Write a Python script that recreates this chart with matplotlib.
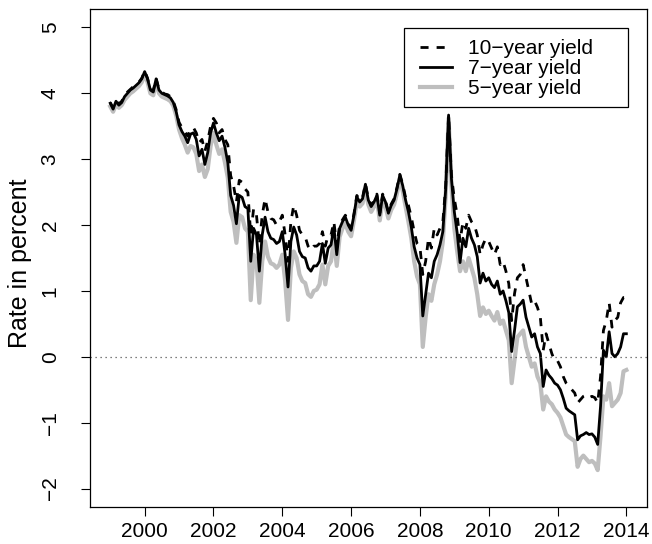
import numpy as np
import pandas as pd
import matplotlib
matplotlib.use("Agg")
import matplotlib.pyplot as plt
from matplotlib.patches import Rectangle

plt.rcParams['font.family'] = ['Liberation Sans', 'DejaVu Sans']

# monthly observations, Jan 1999 - Jan 2014
months = pd.date_range('1999-01-01', '2014-01-01', freq='MS')

yield_10y = [
    3.86, 3.78, 3.89, 3.84, 3.88, 3.96, 4.02, 4.06, 4.10, 4.13, 4.17, 4.23,
    4.34, 4.23, 4.06, 4.04, 4.23, 4.06, 4.02, 3.99, 3.98, 3.95, 3.88, 3.75,
    3.56, 3.48, 3.42, 3.35, 3.46, 3.48, 3.40, 3.25, 3.30, 3.12, 3.28, 3.50,
    3.62, 3.55, 3.40, 3.45, 3.30, 3.22, 2.75, 2.60, 2.35, 2.68, 2.65, 2.55,
    2.50, 1.85, 2.25, 2.15, 1.70, 2.15, 2.40, 2.20, 2.10, 2.08, 2.00, 2.05,
    2.15, 1.85, 1.45, 2.05, 2.30, 2.15, 1.92, 1.85, 1.82, 1.68, 1.62, 1.68,
    1.68, 1.72, 1.90, 1.68, 1.85, 1.85, 2.05, 1.68, 2.00, 2.08, 2.15, 2.03,
    1.95, 2.17, 2.45, 2.38, 2.42, 2.63, 2.40, 2.30, 2.37, 2.47, 2.18, 2.47,
    2.37, 2.20, 2.32, 2.40, 2.57, 2.77, 2.62, 2.42, 2.30, 2.12, 1.90, 1.72,
    1.67, 1.25, 1.45, 1.80, 1.65, 1.95, 1.85, 1.95, 2.05, 2.60, 3.67, 2.75,
    2.40, 2.15, 1.75, 2.05, 1.95, 2.15, 2.05, 2.00, 1.85, 1.55, 1.70, 1.80,
    1.75, 1.65, 1.55, 1.67, 1.40, 1.45, 1.30, 1.11, 0.55, 0.96, 1.20, 1.25,
    1.40, 1.20, 1.00, 0.80, 0.85, 0.75, 0.60, 0.10, 0.35, 0.20, 0.05, -0.06,
    -0.06, -0.15, -0.30, -0.40, -0.45, -0.50, -0.55, -0.70, -0.65, -0.60, -0.58, -0.62,
    -0.60, -0.62, -0.70, -0.30, 0.40, 0.55, 0.82, 0.45, 0.55, 0.60, 0.82, 0.90,
    0.90,
]

yield_7y = [
    3.85, 3.76, 3.88, 3.82, 3.86, 3.95, 4.00, 4.05, 4.08, 4.12, 4.16, 4.22,
    4.33, 4.22, 4.05, 4.02, 4.22, 4.05, 4.00, 3.98, 3.96, 3.93, 3.86, 3.72,
    3.52, 3.42, 3.35, 3.25, 3.38, 3.40, 3.30, 3.05, 3.15, 2.92, 3.10, 3.40,
    3.55, 3.40, 3.28, 3.35, 3.18, 2.95, 2.45, 2.30, 2.02, 2.45, 2.42, 2.28,
    2.25, 1.45, 1.95, 1.85, 1.30, 1.85, 2.12, 1.90, 1.80, 1.78, 1.72, 1.75,
    1.90, 1.55, 1.06, 1.75, 1.97, 1.85, 1.60, 1.52, 1.50, 1.35, 1.30, 1.38,
    1.38, 1.45, 1.72, 1.42, 1.65, 1.70, 1.97, 1.55, 1.95, 2.05, 2.12, 2.00,
    1.92, 2.15, 2.43, 2.35, 2.40, 2.62, 2.38, 2.28, 2.35, 2.45, 2.15, 2.45,
    2.35, 2.18, 2.30, 2.38, 2.55, 2.76, 2.60, 2.38, 2.20, 1.97, 1.67, 1.50,
    1.40, 0.62, 0.95, 1.27, 1.20, 1.45, 1.55, 1.70, 1.90, 2.55, 3.67, 2.70,
    2.20, 1.88, 1.43, 1.80, 1.67, 1.95, 1.80, 1.70, 1.52, 1.12, 1.27, 1.15,
    1.20, 1.10, 1.05, 1.15, 0.95, 1.00, 0.85, 0.67, 0.08, 0.40, 0.76, 0.80,
    0.86, 0.60, 0.45, 0.30, 0.35, 0.15, 0.05, -0.45, -0.20, -0.28, -0.33, -0.40,
    -0.43, -0.50, -0.63, -0.78, -0.82, -0.85, -0.88, -1.26, -1.20, -1.18, -1.15, -1.18,
    -1.17, -1.22, -1.33, -0.75, 0.10, 0.00, 0.38, 0.05, 0.00, 0.05, 0.15, 0.35,
    0.35,
]

yield_5y = [
    3.80, 3.72, 3.83, 3.78, 3.82, 3.90, 3.95, 4.00, 4.03, 4.07, 4.11, 4.17,
    4.28, 4.17, 4.00, 3.97, 4.17, 4.00, 3.95, 3.93, 3.91, 3.88, 3.81, 3.66,
    3.45, 3.32, 3.22, 3.10, 3.20, 3.18, 3.08, 2.82, 2.92, 2.73, 2.85, 3.20,
    3.40, 3.22, 3.08, 3.15, 2.95, 2.72, 2.20, 2.05, 1.73, 2.15, 2.12, 1.95,
    1.90, 0.86, 1.55, 1.45, 0.82, 1.45, 1.75, 1.52, 1.42, 1.40, 1.35, 1.40,
    1.55, 1.15, 0.56, 1.35, 1.60, 1.50, 1.25, 1.15, 1.12, 0.95, 0.91, 1.00,
    1.02, 1.10, 1.40, 1.10, 1.38, 1.45, 1.78, 1.38, 1.82, 1.95, 2.02, 1.90,
    1.83, 2.07, 2.36, 2.28, 2.33, 2.55, 2.31, 2.20, 2.28, 2.38, 2.07, 2.38,
    2.28, 2.10, 2.23, 2.31, 2.48, 2.70, 2.52, 2.28, 2.05, 1.80, 1.45, 1.22,
    1.10, 0.15, 0.60, 0.95, 0.85, 1.10, 1.25, 1.45, 1.75, 2.45, 3.62, 2.60,
    1.95, 1.60, 1.30, 1.45, 1.30, 1.50, 1.35, 1.20, 0.95, 0.62, 0.75, 0.65,
    0.70, 0.62, 0.55, 0.68, 0.50, 0.55, 0.40, 0.25, -0.40, -0.05, 0.30, 0.35,
    0.40, 0.15, 0.00, -0.15, -0.10, -0.30, -0.40, -0.80, -0.60, -0.68, -0.72, -0.80,
    -0.85, -0.92, -1.05, -1.18, -1.22, -1.25, -1.28, -1.67, -1.55, -1.50, -1.55, -1.60,
    -1.58, -1.62, -1.72, -1.20, -0.60, -0.65, -0.40, -0.75, -0.70, -0.65, -0.55, -0.22,
    -0.20,
]

labels = ['10\u2212year yield', '7\u2212year yield', '5\u2212year yield']

# decimal year for the x axis
t = months.year + (months.month - 1) / 12.0

fig = plt.figure(figsize=(6.52, 5.44), dpi=100)
W, H = 652.0, 544.0
ax = fig.add_axes([89.6 / W, (H - 507) / H, (647 - 89.6) / W, (507 - 9) / H])

l5, = ax.plot(t, yield_5y, color='#bebebe', lw=3.0, solid_joinstyle='round')
l7, = ax.plot(t, yield_7y, color='black', lw=2.0, solid_joinstyle='round')
l10, = ax.plot(t, yield_10y, color='black', lw=2.0, linestyle=(0, (2.9, 2.9)))
ax.axhline(0, color='#555555', lw=0.9, linestyle=(0, (1, 3)))

ax.set_xlim(1998.4, 2014.6)
ax.set_ylim(-2.28, 5.28)
ax.set_xticks(np.arange(2000, 2015, 2))
ax.set_yticks(np.arange(-2, 6, 1))
ax.set_yticklabels(['\u22122', '\u22121', '0', '1', '2', '3', '4', '5'])
ax.tick_params(axis='both', length=6.5, width=0.8, labelsize=15)
ax.tick_params(axis='y', pad=15)
ax.tick_params(axis='x', pad=4)
for lab in ax.get_yticklabels():
    lab.set_rotation(90)
    lab.set_va('center')
for sp in ax.spines.values():
    sp.set_linewidth(0.9)

fig.text(20 / W, 1 - 263 / H, 'Rate in percent', rotation=90,
         ha='center', va='center', fontsize=18)

# legend box drawn separately so its padding is wider than the entries
ax.add_patch(Rectangle((404 / W, 1 - 107 / H), 224 / W, 79 / H,
                       transform=fig.transFigure, facecolor='white',
                       edgecolor='black', lw=0.9, zorder=4, clip_on=False))
leg = ax.legend([l10, l7, l5], labels, loc='upper left',
                bbox_to_anchor=(416 / W, 1 - 35 / H),
                bbox_transform=fig.transFigure, borderaxespad=0,
                fontsize=15, frameon=False, handlelength=1.55,
                handletextpad=0.75, labelspacing=0.05, borderpad=0.2)
leg.set_zorder(5)

fig.savefig('out.png', dpi=100)
